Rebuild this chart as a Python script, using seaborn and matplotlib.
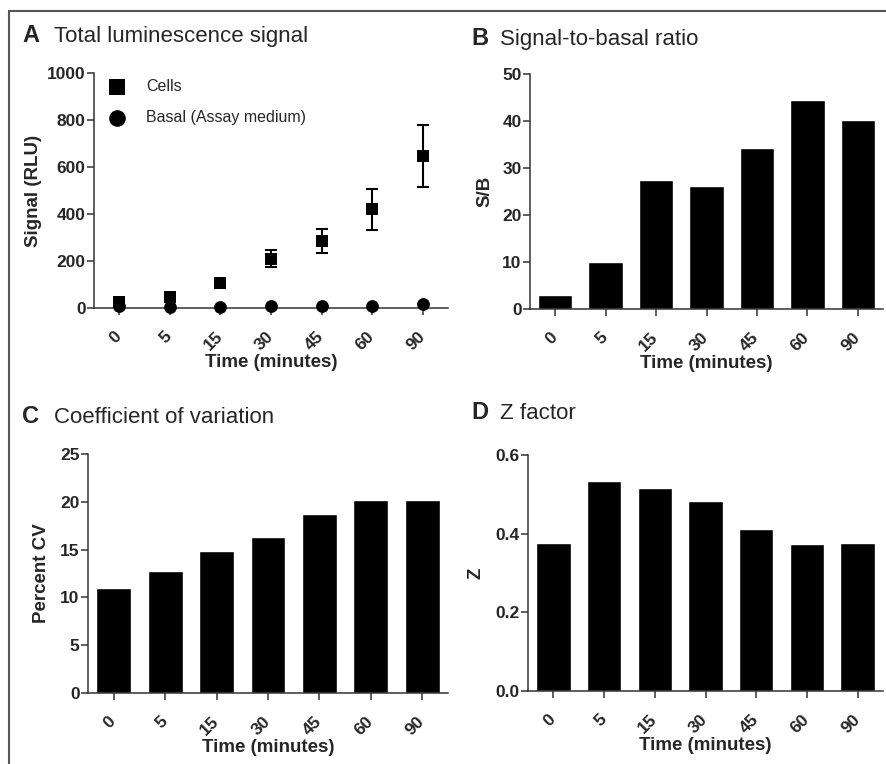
import pandas as pd
import seaborn as sns
import matplotlib.pyplot as plt
from matplotlib.patches import Rectangle
from matplotlib.transforms import ScaledTranslation

# data
times = ['0', '5', '15', '30', '45', '60', '90']
cells = [25, 47, 108, 210, 285, 421, 648]
cells_err = [0, 0, 0, 35, 53, 87, 132]
basal = [8.5, 4.7, 4.0, 8.0, 8.4, 9.5, 16.0]
sb_ratio = [2.9, 10.1, 27.4, 26.2, 34.2, 44.5, 40.3]
percent_cv = [11.0, 12.8, 14.9, 16.35, 18.75, 20.2, 20.15]
z_factor = [0.377, 0.535, 0.517, 0.483, 0.412, 0.375, 0.377]

sns.set_style('ticks')
plt.rcParams['font.family'] = ['Liberation Sans', 'DejaVu Sans']

W, H = 886, 764
fig = plt.figure(figsize=(W / 100, H / 100), dpi=100)


def px_axes(left, top, right, bottom):
    return fig.add_axes([left / W, 1 - bottom / H, (right - left) / W, (bottom - top) / H])


def style_axes(ax, ylabel, ylab_x, yticks, ytick_labels):
    for s in ['top', 'right']:
        ax.spines[s].set_visible(False)
    for s in ['left', 'bottom']:
        ax.spines[s].set_color('#333333')
        ax.spines[s].set_linewidth(1.1)
    ax.tick_params(axis='both', direction='out', length=5, width=1.1, color='#333333')
    ax.tick_params(axis='y', pad=1)
    ax.tick_params(axis='x', pad=10)
    ax.set_xticks(range(len(times)), times, rotation=45, ha='right',
                  fontsize=12.5, fontweight='bold')
    # nudge the rotated labels so their ends sit just past the ticks
    shift = ScaledTranslation(0.05, 0, fig.dpi_scale_trans)
    for lab in ax.get_xticklabels():
        lab.set_transform(lab.get_transform() + shift)
    ax.set_yticks(yticks, ytick_labels, fontsize=12.5, fontweight='bold')
    ax.set_xlabel('Time (minutes)', fontsize=13.5, fontweight='bold')
    ax.xaxis.set_label_coords(0.5, -0.23)
    ax.xaxis.label.set_va('center')
    ax.set_ylabel(ylabel, fontsize=13.5, fontweight='bold')
    ax.yaxis.set_label_coords(ylab_x, 0.5)
    ax.yaxis.label.set_va('center')
    ax.set_xlim(-0.5, len(times) - 0.5)


def panel_title(x_letter, x_text, y_base, letter, text):
    fig.text(x_letter / W, 1 - y_base / H, letter, fontsize=17, fontweight='bold', va='baseline')
    fig.text(x_text / W, 1 - y_base / H, text, fontsize=16, va='baseline')


# A: total luminescence signal
axA = px_axes(94, 73, 448, 308)
dfA = pd.DataFrame({'time': times, 'cells': cells, 'basal': basal})
axA.errorbar(dfA['time'], dfA['cells'], yerr=cells_err, fmt='none', ecolor='black',
             elinewidth=1.5, capsize=4.5, capthick=1.5, zorder=2)
sns.scatterplot(data=dfA, x='time', y='cells', marker='s', s=85, color='black',
                linewidth=0, label='Cells', ax=axA, zorder=3, clip_on=False)
sns.scatterplot(data=dfA, x='time', y='basal', marker='o', s=85, color='black',
                linewidth=0, label='Basal (Assay medium)', ax=axA, zorder=3, clip_on=False)
axA.set_ylim(0, 1000)
style_axes(axA, 'Signal (RLU)', -0.172, range(0, 1001, 200),
           [str(v) for v in range(0, 1001, 200)])
axA.legend(loc='upper left', bbox_to_anchor=(0.02, 0.975), frameon=False, fontsize=11.5,
           markerscale=1.3, handlelength=2, handletextpad=0.8, labelspacing=1.0,
           borderpad=0, borderaxespad=0)
panel_title(22, 54, 42, 'A', 'Total luminescence signal')

# B: signal-to-basal ratio
axB = px_axes(530, 74, 883, 309)
sns.barplot(x=times, y=sb_ratio, order=times, color='black', saturation=1, width=0.68, ax=axB)
axB.set_ylim(0, 50)
style_axes(axB, 'S/B', -0.128, range(0, 51, 10), [str(v) for v in range(0, 51, 10)])
panel_title(471, 500, 45, 'B', 'Signal-to-basal ratio')

# C: coefficient of variation
axC = px_axes(88, 454, 448, 693)
sns.barplot(x=times, y=percent_cv, order=times, color='black', saturation=1, width=0.68, ax=axC)
axC.set_ylim(0, 25)
style_axes(axC, 'Percent CV', -0.128, range(0, 26, 5), [str(v) for v in range(0, 26, 5)])
panel_title(22, 54, 423, 'C', 'Coefficient of variation')

# D: Z factor
axD = px_axes(528, 455, 883, 691)
sns.barplot(x=times, y=z_factor, order=times, color='black', saturation=1, width=0.68, ax=axD)
axD.set_ylim(0, 0.6)
style_axes(axD, 'Z', -0.147, [0.0, 0.2, 0.4, 0.6], ['0.0', '0.2', '0.4', '0.6'])
panel_title(471, 500, 419, 'D', 'Z factor')

# outer frame
fig.patches.append(Rectangle((9 / W, -0.1), 1.2, 1.1 - 11 / H, transform=fig.transFigure,
                             fill=False, edgecolor='#555555', linewidth=1.5))

fig.savefig('out.png', dpi=100)
